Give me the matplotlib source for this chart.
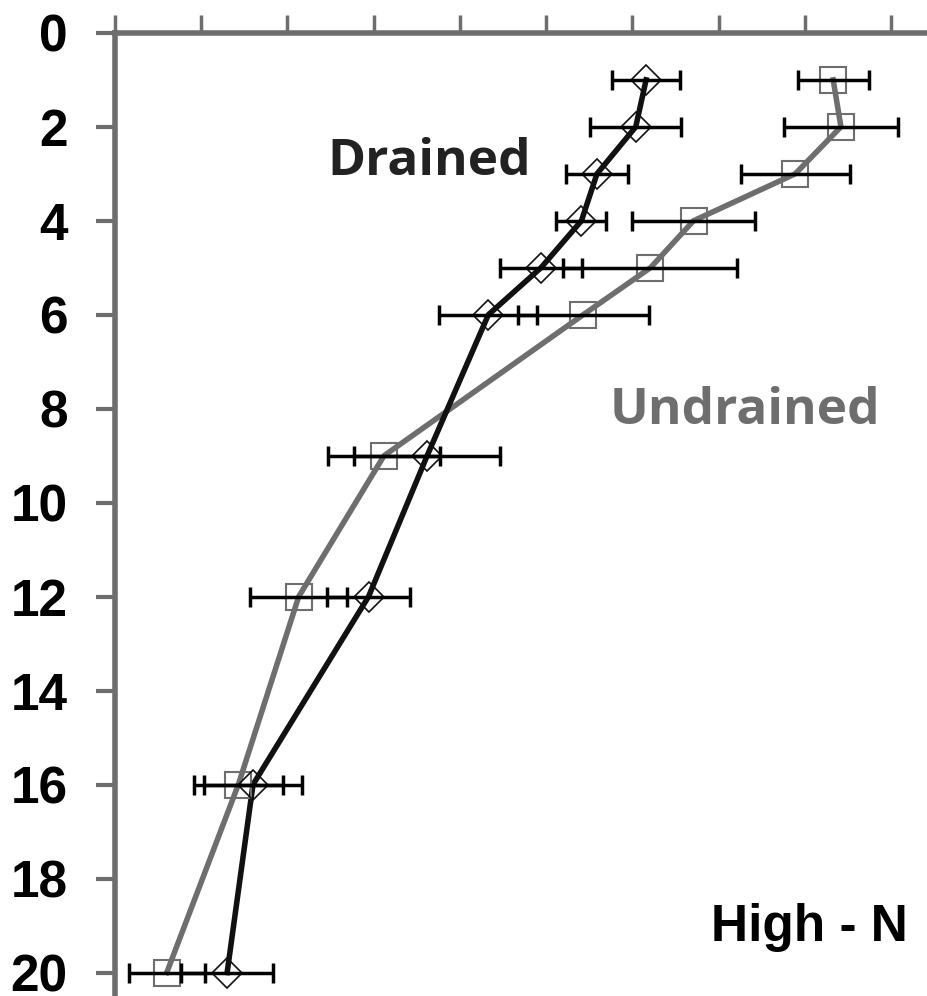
import numpy as np
import matplotlib.pyplot as plt

# depth (y) and strength (x, arbitrary units; 10 per axis tick)
depth = [1, 2, 3, 4, 5, 6, 9, 12, 16, 20]
drained = [61.6, 60.4, 55.9, 54.1, 49.4, 43.3, 36.2, 29.4, 16.0, 13.0]
drained_err = [3.9, 5.3, 3.6, 2.9, 4.8, 5.7, 8.5, 4.8, 5.7, 5.3]
undrained = [83.3, 84.2, 78.9, 67.1, 62.1, 54.3, 31.2, 21.3, 14.3, 6.0]
undrained_err = [4.1, 6.6, 6.3, 7.1, 10.1, 7.6, 6.5, 5.6, 5.2, 4.4]
yticks = [0, 2, 4, 6, 8, 10, 12, 14, 16, 18, 20]

fig = plt.figure(figsize=(9.28, 9.96), dpi=100)
ax = fig.add_axes([0.124, 0.0, 0.876, 0.967])

grey = '#6e6e6e'

ax.plot(undrained, depth, '-', color=grey, lw=4, zorder=2)
ax.plot(undrained, depth, 's', mfc='none', mec=grey, ms=19, mew=1.5, zorder=3)
ax.plot(drained, depth, '-', color='#111111', lw=4, zorder=2)
ax.plot(drained, depth, 'D', mfc='none', mec='#111111', ms=15, mew=1.2, zorder=3)

ax.errorbar(undrained, depth, xerr=undrained_err, fmt='none', ecolor='black',
            elinewidth=2.5, capsize=7, capthick=2.5, zorder=4)
ax.errorbar(drained, depth, xerr=drained_err, fmt='none', ecolor='black',
            elinewidth=2.5, capsize=7, capthick=2.5, zorder=4)

ax.set_xlim(0, 94.3)
ax.set_ylim(20.5, 0)
ax.set_xticks(np.arange(0, 100, 10))
ax.set_yticks(yticks)
ax.set_yticklabels([str(t) for t in yticks], fontsize=37, fontweight='bold',
                   family='Liberation Sans')
ax.xaxis.tick_top()
ax.tick_params(axis='x', direction='out', length=13, width=2.5, color=grey,
               labeltop=False)
ax.tick_params(axis='y', direction='out', length=14, width=3, color=grey, pad=20)
for s in ['right', 'bottom']:
    ax.spines[s].set_visible(False)
for s in ['left', 'top']:
    ax.spines[s].set_color(grey)
    ax.spines[s].set_linewidth(4)

ax.text(36.4, 2.75, 'Drained', fontsize=37, fontweight='bold', color='#222222',
        family='Open Sans', ha='center', va='center')
ax.text(73.1, 8.05, 'Undrained', fontsize=37, fontweight='bold', color=grey,
        family='Open Sans', ha='center', va='center')
ax.text(92.0, 19.05, 'High - N', fontsize=37, fontweight='bold', color='black',
        family='Liberation Sans', ha='right', va='center')

plt.savefig('out.png', dpi=100)
